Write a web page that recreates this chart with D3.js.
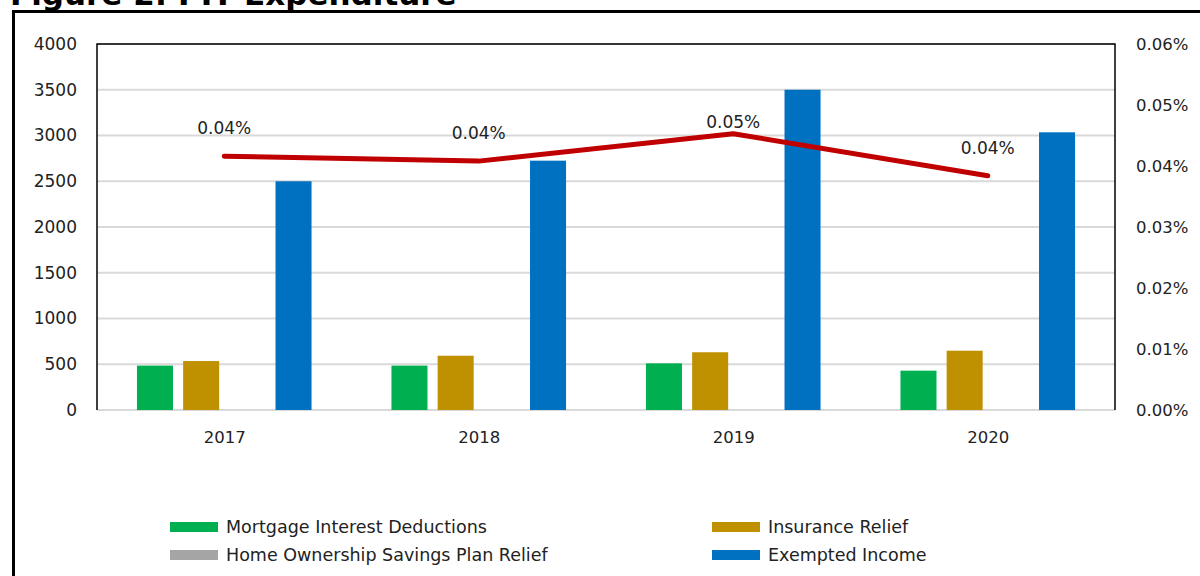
<!DOCTYPE html>
<html>
<head>
<meta charset="utf-8">
<title>Figure 2: PIT Expenditure</title>
<script src="https://cdn.jsdelivr.net/npm/d3@7"></script>
<style>
  html, body { margin: 0; padding: 0; background: #fff; }
  #mainDiv { width: 1200px; height: 576px; overflow: hidden; }
</style>
</head>
<body>
<div id="mainDiv"></div>
<script>
'use strict';

var myApp = {};

// data
myApp.years = ["2017", "2018", "2019", "2020"];
myApp.seriesNames = ["Mortgage Interest Deductions", "Insurance Relief", "Home Ownership Savings Plan Relief", "Exempted Income"];
myApp.mortgage = [485, 485, 510, 430];
myApp.insurance = [535, 593, 631, 648];
myApp.homeSavings = [0, 0, 0, 0];
myApp.exempted = [2500, 2725, 3500, 3035];
myApp.shareOfGdp = [0.0416, 0.0408, 0.0453, 0.0384];   // percent
myApp.leftTicks = [0, 500, 1000, 1500, 2000, 2500, 3000, 3500, 4000];
myApp.rightTicks = [0, 0.01, 0.02, 0.03, 0.04, 0.05, 0.06];

myApp.colors = ["#00B050", "#BF9000", "#A5A5A5", "#0070C0"];
myApp.font = "'DejaVu Sans', Verdana, sans-serif";

myApp.run = function ()
{
    var svg = d3.select("#mainDiv").append("svg")
        .attr("width", 1200)
        .attr("height", 576);

    var plot = { left: 97, right: 1115, top: 44, bottom: 410 };

    // title (cut off by the top edge, as in the source)
    svg.append("text")
        .attr("x", 10)
        .attr("y", 5)
        .attr("font-family", myApp.font)
        .attr("font-weight", "bold")
        .attr("font-size", "31px")
        .attr("fill", "#000")
        .text("Figure 2: PIT Expenditure");

    // outer frame
    svg.append("rect")
        .attr("x", 13.5)
        .attr("y", 11.5)
        .attr("width", 1200)
        .attr("height", 600)
        .attr("fill", "none")
        .attr("stroke", "#000")
        .attr("stroke-width", 3);

    var x0 = d3.scaleBand()
        .domain(myApp.years)
        .range([plot.left, plot.right])
        .paddingInner(0.314)
        .paddingOuter(0.157);

    var x1 = d3.scaleBand()
        .domain(myApp.seriesNames)
        .range([0, x0.bandwidth()])
        .paddingInner(0.22);

    var xc = d3.scalePoint()
        .domain(myApp.years)
        .range([plot.left, plot.right])
        .padding(0.5);

    var yL = d3.scaleLinear().domain([0, 4000]).range([plot.bottom, plot.top]);
    var yR = d3.scaleLinear().domain([0, 0.06]).range([plot.bottom, plot.top]);

    // gridlines
    svg.append("g")
        .selectAll("line")
        .data(myApp.leftTicks)
        .enter()
        .append("line")
            .attr("x1", plot.left)
            .attr("x2", plot.right)
            .attr("y1", function(d) { return yL(d); })
            .attr("y2", function(d) { return yL(d); })
            .attr("stroke", "#D9D9D9")
            .attr("stroke-width", 2);

    // bars
    var series = [myApp.mortgage, myApp.insurance, myApp.homeSavings, myApp.exempted];
    var bars = [];
    series.forEach(function(vals, s) {
        vals.forEach(function(v, i) {
            bars.push({ year: myApp.years[i], name: myApp.seriesNames[s], value: v, color: myApp.colors[s] });
        });
    });

    svg.append("g")
        .selectAll("rect")
        .data(bars.filter(function(d) { return d.value > 0; }))
        .enter()
        .append("rect")
            .attr("x", function(d) { return x0(d.year) + x1(d.name); })
            .attr("y", function(d) { return yL(d.value); })
            .attr("width", x1.bandwidth())
            .attr("height", function(d) { return yL(0) - yL(d.value); })
            .attr("fill", function(d) { return d.color; });

    // plot area frame: black left, top, right; gray bottom
    svg.append("path")
        .attr("d", "M" + plot.left + "," + plot.bottom + "V" + plot.top + "H" + plot.right + "V" + plot.bottom)
        .attr("fill", "none")
        .attr("stroke", "#000")
        .attr("stroke-width", 1.5);

    // left axis
    var axL = svg.append("g")
        .attr("transform", "translate(" + (plot.left - 20) + ",0)")
        .call(d3.axisLeft(yL).tickValues(myApp.leftTicks).tickSize(0).tickPadding(0)
            .tickFormat(d3.format("d")));
    axL.select(".domain").remove();

    // right axis
    var axR = svg.append("g")
        .attr("transform", "translate(" + (plot.right + 21) + ",0)")
        .call(d3.axisRight(yR).tickValues(myApp.rightTicks).tickSize(0).tickPadding(0)
            .tickFormat(function(d) { return d3.format(".2f")(d) + "%"; }));
    axR.select(".domain").remove();

    // category axis
    var axB = svg.append("g")
        .attr("transform", "translate(0," + (plot.bottom + 21) + ")")
        .call(d3.axisBottom(xc).tickSize(0).tickPadding(0));
    axB.select(".domain").remove();

    [axL, axR, axB].forEach(function(ax) {
        ax.selectAll("text")
            .attr("font-family", myApp.font)
            .attr("font-size", "16.5px")
            .attr("fill", "#222");
    });
    axL.selectAll("text").attr("font-size", "17px");

    // share line
    var line = d3.line()
        .x(function(d, i) { return xc(myApp.years[i]); })
        .y(function(d) { return yR(d); });

    svg.append("path")
        .datum(myApp.shareOfGdp)
        .attr("d", line)
        .attr("fill", "none")
        .attr("stroke", "#C00000")
        .attr("stroke-width", 5)
        .attr("stroke-linecap", "round")
        .attr("stroke-linejoin", "round");

    svg.append("g")
        .selectAll("text")
        .data(myApp.shareOfGdp)
        .enter()
        .append("text")
            .text(function(d) { return d3.format(".2f")(d) + "%"; })
            .attr("text-anchor", "middle")
            .attr("x", function(d, i) { return xc(myApp.years[i]); })
            .attr("y", function(d, i) { return yR(d) - (i === 2 ? 6 : 22); })
            .attr("font-family", myApp.font)
            .attr("font-size", "17px")
            .attr("fill", "#222");

    // legend
    var legendPos = [[170, 527], [712, 527], [170, 555], [712, 555]];
    var leg = svg.append("g")
        .selectAll("g")
        .data(myApp.seriesNames)
        .enter()
        .append("g")
            .attr("transform", function(d, i) { return "translate(" + legendPos[i][0] + "," + legendPos[i][1] + ")"; });

    leg.append("rect")
        .attr("x", 0)
        .attr("y", -5)
        .attr("width", 48)
        .attr("height", 10)
        .attr("fill", function(d, i) { return myApp.colors[i]; });

    leg.append("text")
        .attr("x", 56)
        .attr("y", 0)
        .attr("dy", "0.35em")
        .attr("font-family", myApp.font)
        .attr("font-size", "17.5px")
        .attr("fill", "#222")
        .text(function(d) { return d; });
}

window.onload = myApp.run;
</script>
</body>
</html>
